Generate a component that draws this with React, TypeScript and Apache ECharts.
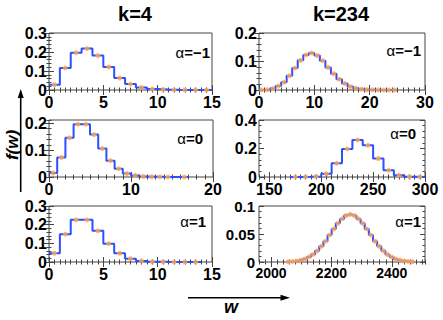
import { useEffect, useRef } from "react";
import * as echarts from "echarts";

const FONT = "'Liberation Sans', Arial, Helvetica, sans-serif";
const BLUE = "#2a50ff";
const ORANGE = "#ffa657";
const FRAME = "#444444";

// column titles and alpha labels
const columnTitles = ["k=4", "k=234"];
const alphaValues = ["−1", "0", "1"];

// k=4, alpha=-1
const k4aM1Edges = [0, 1, 2, 3, 4, 5, 6, 7, 8, 9, 10, 11, 12, 13, 14, 15];
const k4aM1Vals = [0.028, 0.116, 0.196, 0.218, 0.181, 0.121, 0.063, 0.031, 0.013, 0.005, 0.002, 0.001, 0.0005, 0.0002, 0.0001];
const k4aM1NoDot: number[] = [];

// k=4, alpha=0
const k4a0Edges = [0, 1, 2, 3, 4, 5, 6, 7, 8, 9, 10, 11, 12, 13, 14, 15, 16, 17];
const k4a0Vals = [0.015, 0.073, 0.146, 0.197, 0.197, 0.158, 0.106, 0.061, 0.031, 0.013, 0.006, 0.002, 0.001, 0.0005, 0.0002, 0, 0.0001];
const k4a0NoDot = [15];

// k=4, alpha=1
const k4a1Edges = [0, 1, 2, 3, 4, 5, 6, 7, 8, 9, 10, 11, 12, 13, 14];
const k4a1Vals = [0.047, 0.149, 0.226, 0.226, 0.167, 0.098, 0.047, 0.018, 0.006, 0.002, 0.0008, 0.0003, 0.0001, 0.0001];
const k4a1NoDot: number[] = [];

// k=234, alpha=-1
const k234aM1Edges = [0, 1, 2, 3, 4, 5, 6, 7, 8, 9, 10, 11, 12, 13, 14, 15, 16, 17, 18, 19, 20, 21, 22, 23, 24, 25];
const k234aM1Vals = [0.0002, 0.001, 0.005, 0.014, 0.027, 0.05, 0.077, 0.104, 0.123, 0.13, 0.121, 0.103, 0.079, 0.057, 0.038, 0.023, 0.012, 0.006, 0.003, 0.001, 0.0005, 0.0002, 0.0001, 0, 0];
const k234aM1NoDot: number[] = [];

// k=234, alpha=0
const k234a0Edges = [170, 180, 190, 200, 210, 220, 230, 240, 250, 260, 270, 280, 290, 300];
const k234a0Vals = [0.0003, 0.001, 0.004, 0.022, 0.096, 0.197, 0.26, 0.222, 0.13, 0.047, 0.012, 0.002, 0.0003];
const k234a0NoDot: number[] = [];

// k=234, alpha=1
const k234a1Edges = [2050.0, 2063.7, 2077.4, 2091.1, 2104.8, 2118.5, 2132.2, 2145.9, 2159.6, 2173.3, 2187.0, 2200.7, 2214.4, 2228.1, 2241.8, 2255.5, 2269.2, 2282.9, 2296.6, 2310.3, 2324.0, 2337.7, 2351.4, 2365.1, 2378.8, 2392.5, 2406.2, 2419.9, 2433.6, 2447.3, 2461.0, 2474.7];
const k234a1Vals = [0.0005, 0.001, 0.0019, 0.0033, 0.0055, 0.009, 0.0135, 0.02, 0.028, 0.037, 0.048, 0.059, 0.069, 0.077, 0.083, 0.085, 0.083, 0.077, 0.069, 0.059, 0.048, 0.037, 0.028, 0.02, 0.0135, 0.009, 0.0055, 0.0033, 0.0019, 0.001, 0.0005];
const k234a1NoDot: number[] = [];

// axis ticks / labels
const xLabels15 = [0, 5, 10, 15];
const xLabels20 = [0, 10, 20];
const xLabels30 = [0, 10, 20, 30];
const xLabels150 = [150, 200, 250, 300];
const xLabels2000 = [2000, 2200, 2400];
const yLabels03 = [0, 0.1, 0.2, 0.3];
const yLabels02 = [0, 0.1, 0.2];
const yLabels04 = [0, 0.2, 0.4];
const yLabels01 = [0, 0.05, 0.1];

type PanelDef = {
  left: number; top: number; width: number; height: number;
  xMin: number; xMax: number; xMinor: number; xMajor: number[]; xFont: number;
  yMax: number; yMinor: number; yMajor: number[]; yFont: number; yMargin: number;
  edges: number[]; vals: number[]; skip: number[];
  alpha: string; ax: number; ay: number;
};

const panels: PanelDef[] = [
  { left: 49, top: 33, width: 163, height: 57, xMin: 0, xMax: 15, xMinor: 0.5, xMajor: xLabels15, xFont: 16, yMax: 0.3, yMinor: 0.02, yMajor: yLabels03, yFont: 16, yMargin: 2, edges: k4aM1Edges, vals: k4aM1Vals, skip: k4aM1NoDot, alpha: alphaValues[0], ax: 210, ay: 52 },
  { left: 259, top: 33, width: 166, height: 57, xMin: 0, xMax: 30, xMinor: 1, xMajor: xLabels30, xFont: 16, yMax: 0.2, yMinor: 0.02, yMajor: yLabels02, yFont: 16, yMargin: 2, edges: k234aM1Edges, vals: k234aM1Vals, skip: k234aM1NoDot, alpha: alphaValues[0], ax: 421, ay: 50 },
  { left: 49, top: 120, width: 164, height: 57, xMin: 0, xMax: 20, xMinor: 1, xMajor: xLabels20, xFont: 16, yMax: 0.2125, yMinor: 0.02, yMajor: yLabels02, yFont: 16, yMargin: 2, edges: k4a0Edges, vals: k4a0Vals, skip: k4a0NoDot, alpha: alphaValues[1], ax: 203, ay: 138 },
  { left: 259, top: 120, width: 166, height: 57, xMin: 140, xMax: 300, xMinor: 5, xMajor: xLabels150, xFont: 16, yMax: 0.4, yMinor: 0.04, yMajor: yLabels04, yFont: 16, yMargin: 2, edges: k234a0Edges, vals: k234a0Vals, skip: k234a0NoDot, alpha: alphaValues[1], ax: 416, ay: 133 },
  { left: 49, top: 206, width: 163, height: 56, xMin: 0, xMax: 15, xMinor: 0.5, xMajor: xLabels15, xFont: 16, yMax: 0.3, yMinor: 0.02, yMajor: yLabels03, yFont: 16, yMargin: 2, edges: k4a1Edges, vals: k4a1Vals, skip: k4a1NoDot, alpha: alphaValues[2], ax: 206, ay: 221 },
  { left: 259, top: 206, width: 166, height: 56, xMin: 1960, xMax: 2510, xMinor: 20, xMajor: xLabels2000, xFont: 14, yMax: 0.1, yMinor: 0.01, yMajor: yLabels01, yFont: 15, yMargin: 4, edges: k234a1Edges, vals: k234a1Vals, skip: k234a1NoDot, alpha: alphaValues[2], ax: 421, ay: 221 },
];

const baseLabel = {
  fontFamily: FONT,
  fontWeight: "bold" as const,
  color: "#000",
};
const fmt = (v: number) => `${+Number(v).toFixed(4)}`;

function buildOption() {
  const grid: any[] = [];
  const xAxis: any[] = [];
  const yAxis: any[] = [];
  const series: any[] = [];
  const graphic: any[] = [];
  const tickLine = { color: FRAME, width: 1 };

  panels.forEach((p, i) => {
    grid.push({
      left: p.left, top: p.top, width: p.width, height: p.height,
      show: true, borderColor: FRAME, borderWidth: 1, backgroundColor: "transparent",
      containLabel: false,
    });
    const xBase = {
      type: "value", gridIndex: i, min: p.xMin, max: p.xMax, interval: p.xMinor,
      axisLine: { show: false }, splitLine: { show: false }, minorTick: { show: false },
    };
    const xi = xAxis.length;
    xAxis.push({ ...xBase, position: "bottom",
      axisTick: { show: true, inside: true, length: 2.5, lineStyle: tickLine },
      axisLabel: { show: true, customValues: p.xMajor, margin: 4, formatter: fmt, fontSize: p.xFont, ...baseLabel } });
    xAxis.push({ ...xBase, position: "bottom",
      axisTick: { show: true, inside: true, length: 5, customValues: p.xMajor, lineStyle: tickLine },
      axisLabel: { show: false } });
    xAxis.push({ ...xBase, position: "top",
      axisTick: { show: true, inside: true, length: 2.5, lineStyle: tickLine },
      axisLabel: { show: false } });
    xAxis.push({ ...xBase, position: "top",
      axisTick: { show: true, inside: true, length: 5, customValues: p.xMajor, lineStyle: tickLine },
      axisLabel: { show: false } });

    const yBase = {
      type: "value", gridIndex: i, min: 0, max: p.yMax, interval: p.yMinor,
      axisLine: { show: false }, splitLine: { show: false }, minorTick: { show: false },
    };
    const yi = yAxis.length;
    yAxis.push({ ...yBase, position: "left",
      axisTick: { show: true, inside: true, length: 2.5, lineStyle: tickLine },
      axisLabel: { show: true, customValues: p.yMajor, margin: p.yMargin, formatter: fmt, fontSize: p.yFont, ...baseLabel } });
    yAxis.push({ ...yBase, position: "left",
      axisTick: { show: true, inside: true, length: 5, customValues: p.yMajor, lineStyle: tickLine },
      axisLabel: { show: false } });
    yAxis.push({ ...yBase, position: "right",
      axisTick: { show: true, inside: true, length: 2.5, lineStyle: tickLine },
      axisLabel: { show: false } });
    yAxis.push({ ...yBase, position: "right",
      axisTick: { show: true, inside: true, length: 5, customValues: p.yMajor, lineStyle: tickLine },
      axisLabel: { show: false } });

    const stepData: number[][] = p.vals.map((v, j) => [p.edges[j], v]);
    stepData.push([p.edges[p.vals.length], p.vals[p.vals.length - 1]]);
    series.push({
      type: "line", xAxisIndex: xi, yAxisIndex: yi, data: stepData, step: "end",
      showSymbol: false, symbol: "none", lineStyle: { color: BLUE, width: 2 }, z: 2,
    });
    const dots: number[][] = [];
    p.vals.forEach((v, j) => {
      if (p.skip.indexOf(j) >= 0) return;
      dots.push([(p.edges[j] + p.edges[j + 1]) / 2, v]);
    });
    series.push({
      type: "scatter", xAxisIndex: xi, yAxisIndex: yi, data: dots,
      symbol: "circle", symbolSize: 5, itemStyle: { color: ORANGE }, z: 3,
    });

    graphic.push({
      type: "text", x: p.ax, y: p.ay,
      style: {
        text: `{a|α}{b|=${p.alpha}}`, align: "right", verticalAlign: "middle",
        rich: {
          a: { fontFamily: FONT, fontSize: 15, fill: "#000" },
          b: { fontFamily: FONT, fontSize: 15, fontWeight: "bold", fill: "#000" },
        },
      },
    });
  });

  // column titles
  graphic.push({ type: "text", x: 135, y: 14, style: { text: columnTitles[0], align: "center", verticalAlign: "middle", fontFamily: FONT, fontSize: 20, fontWeight: "bold", fill: "#000" } });
  graphic.push({ type: "text", x: 341, y: 14, style: { text: columnTitles[1], align: "center", verticalAlign: "middle", fontFamily: FONT, fontSize: 20, fontWeight: "bold", fill: "#000" } });

  // y axis title and arrow
  graphic.push({ type: "text", x: 12.5, y: 145, rotation: Math.PI / 2,
    style: { text: "f(w)", align: "center", verticalAlign: "middle", fontFamily: FONT, fontSize: 17, fontWeight: "bold", fontStyle: "italic", fill: "#000" } });
  graphic.push({ type: "line", shape: { x1: 20.7, y1: 192, x2: 20.7, y2: 96 }, style: { stroke: "#000", lineWidth: 1.6 } });
  graphic.push({ type: "polygon", shape: { points: [[20.7, 89], [17.7, 98], [23.7, 98]] }, style: { fill: "#000" } });

  // x axis title and arrow
  graphic.push({ type: "text", x: 231, y: 307,
    style: { text: "w", align: "center", verticalAlign: "middle", fontFamily: FONT, fontSize: 18, fontWeight: "bold", fontStyle: "italic", fill: "#000" } });
  graphic.push({ type: "line", shape: { x1: 188, y1: 297.7, x2: 283, y2: 297.7 }, style: { stroke: "#000", lineWidth: 1.6 } });
  graphic.push({ type: "polygon", shape: { points: [[290, 297.7], [280.5, 294.7], [280.5, 300.7]] }, style: { fill: "#000" } });

  return { animation: false, backgroundColor: "#ffffff", grid, xAxis, yAxis, series, graphic };
}

export default function App() {
  const ref = useRef<HTMLDivElement>(null);
  useEffect(() => {
    if (!ref.current) return;
    const chart = echarts.init(ref.current, null, { renderer: "svg" });
    chart.setOption(buildOption() as any);
    return () => chart.dispose();
  }, []);
  return (
    <div
      ref={ref}
      style={{ position: "fixed", left: 0, top: 0, width: 443, height: 320, background: "#fff" }}
    />
  );
}
